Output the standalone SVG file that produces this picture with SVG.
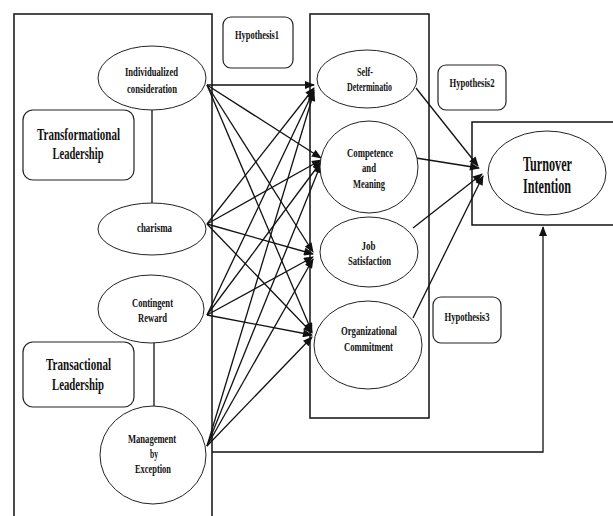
<svg xmlns="http://www.w3.org/2000/svg" width="613" height="516" viewBox="0 0 613 516">
<defs>
<style>
.box{fill:none;stroke:#111;stroke-width:1.5}
.rb{fill:#fff;stroke:#222;stroke-width:1.2}
.el{fill:#fff;stroke:#222;stroke-width:1}
.ln{fill:none;stroke:#111;stroke-width:1.3}
.ar{fill:none;stroke:#111;stroke-width:1.3;marker-end:url(#ah)}
text{font-family:"Liberation Serif","Times New Roman",serif;font-weight:bold;fill:#111;text-anchor:middle}
.s{font-size:13px}
.m{font-size:17px}
.l{font-size:20px}
</style>
<marker id="ah" viewBox="0 0 10 8" refX="9" refY="4" markerWidth="11" markerHeight="8" markerUnits="userSpaceOnUse" orient="auto">
<path d="M0,0 L10,4 L0,8 Z" fill="#111"/>
</marker>
</defs>
<rect width="613" height="516" fill="#fff"/>

<g id="containers">
<path class="box" d="M14,516 L14,14 L212,14 L212,516"/>
<rect class="box" x="310" y="14" width="119" height="404"/>
<path class="box" d="M613,122 L472,122 L472,225 L613,225"/>
</g>

<g id="connectors">
<line class="ln" x1="152" y1="110" x2="152" y2="203"/>
<line class="ln" x1="154" y1="343" x2="154" y2="406"/>
<!-- from Individualized consideration -->
<line class="ar" x1="207" y1="85" x2="314" y2="85"/>
<line class="ar" x1="207" y1="85" x2="321" y2="158"/>
<line class="ar" x1="207" y1="85" x2="313" y2="252"/>
<line class="ar" x1="207" y1="85" x2="312" y2="332"/>
<!-- from charisma -->
<line class="ar" x1="207" y1="224" x2="314" y2="88"/>
<line class="ar" x1="207" y1="224" x2="321" y2="160"/>
<line class="ar" x1="207" y1="224" x2="313" y2="254"/>
<line class="ar" x1="207" y1="224" x2="312" y2="333"/>
<!-- from Contingent Reward -->
<line class="ar" x1="207" y1="315" x2="314" y2="90"/>
<line class="ar" x1="207" y1="315" x2="321" y2="162"/>
<line class="ar" x1="207" y1="315" x2="313" y2="257"/>
<line class="ar" x1="207" y1="315" x2="312" y2="335"/>
<!-- from Management by Exception -->
<line class="ar" x1="207" y1="446" x2="314" y2="92"/>
<line class="ar" x1="207" y1="446" x2="321" y2="164"/>
<line class="ar" x1="207" y1="446" x2="313" y2="259"/>
<line class="ar" x1="207" y1="446" x2="312" y2="337"/>
<!-- mediators to Turnover -->
<line class="ar" x1="416" y1="88" x2="478" y2="166"/>
<line class="ar" x1="416" y1="158" x2="479" y2="168"/>
<line class="ar" x1="413" y1="228" x2="482" y2="174"/>
<line class="ar" x1="413" y1="318" x2="483" y2="176"/>
<!-- base line to Turnover -->
<path class="ar" d="M212,452 L543,452 L543,227"/>
</g>

<g id="transformational">
<rect class="rb" x="23" y="110" width="111" height="70" rx="10"/>
<text class="m" x="78.5" y="140" textLength="83" lengthAdjust="spacingAndGlyphs">Transformational</text>
<text class="m" x="78" y="159" textLength="51" lengthAdjust="spacingAndGlyphs">Leadership</text>
</g>
<g id="transactional">
<rect class="rb" x="23" y="342" width="111" height="65" rx="10"/>
<text class="m" x="78.5" y="370" textLength="65" lengthAdjust="spacingAndGlyphs">Transactional</text>
<text class="m" x="78" y="390" textLength="52" lengthAdjust="spacingAndGlyphs">Leadership</text>
</g>
<g id="hypothesis1">
<rect class="rb" x="223" y="17" width="70" height="51" rx="8"/>
<text class="s" x="257" y="39" textLength="44" lengthAdjust="spacingAndGlyphs">Hypothesis1</text>
</g>
<g id="hypothesis2">
<rect class="rb" x="438" y="65" width="68" height="45" rx="8"/>
<text class="s" x="472" y="87" textLength="45" lengthAdjust="spacingAndGlyphs">Hypothesis2</text>
</g>
<g id="hypothesis3">
<rect class="rb" x="433" y="297" width="68" height="46" rx="8"/>
<text class="s" x="467" y="321" textLength="45" lengthAdjust="spacingAndGlyphs">Hypothesis3</text>
</g>

<g id="individualized">
<ellipse class="el" cx="152" cy="78" rx="54" ry="32"/>
<text class="s" x="151.5" y="76" textLength="53" lengthAdjust="spacingAndGlyphs">Individualized</text>
<text class="s" x="152" y="93" textLength="50" lengthAdjust="spacingAndGlyphs">consideration</text>
</g>
<g id="charisma">
<ellipse class="el" cx="152" cy="229" rx="54" ry="26"/>
<text class="s" x="154.5" y="232" textLength="35" lengthAdjust="spacingAndGlyphs">charisma</text>
</g>
<g id="contingent">
<ellipse class="el" cx="151" cy="309" rx="53" ry="34"/>
<text class="s" x="152.5" y="307" textLength="41" lengthAdjust="spacingAndGlyphs">Contingent</text>
<text class="s" x="152.5" y="322" textLength="29" lengthAdjust="spacingAndGlyphs">Reward</text>
</g>
<g id="management">
<ellipse class="el" cx="153" cy="455" rx="53" ry="49"/>
<text class="s" x="152" y="443" textLength="48" lengthAdjust="spacingAndGlyphs">Management</text>
<text class="s" x="154" y="458" textLength="8" lengthAdjust="spacingAndGlyphs">by</text>
<text class="s" x="153" y="473" textLength="36" lengthAdjust="spacingAndGlyphs">Exception</text>
</g>

<g id="selfdetermination">
<ellipse class="el" cx="367" cy="79" rx="50" ry="29"/>
<text class="s" x="365" y="76" textLength="16" lengthAdjust="spacingAndGlyphs">Self-</text>
<text class="s" x="369.5" y="91" textLength="45" lengthAdjust="spacingAndGlyphs">Determinatio</text>
</g>
<g id="competence">
<ellipse class="el" cx="369" cy="167" rx="49" ry="46"/>
<text class="s" x="370" y="157" textLength="46" lengthAdjust="spacingAndGlyphs">Competence</text>
<text class="s" x="369" y="172" textLength="14" lengthAdjust="spacingAndGlyphs">and</text>
<text class="s" x="369" y="188" textLength="32" lengthAdjust="spacingAndGlyphs">Meaning</text>
</g>
<g id="jobsatisfaction">
<ellipse class="el" cx="369" cy="252" rx="49" ry="35"/>
<text class="s" x="368.5" y="250" textLength="14" lengthAdjust="spacingAndGlyphs">Job</text>
<text class="s" x="369.5" y="265" textLength="43" lengthAdjust="spacingAndGlyphs">Satisfaction</text>
</g>
<g id="organizational">
<ellipse class="el" cx="368" cy="345" rx="54" ry="44"/>
<text class="s" x="369" y="335" textLength="56" lengthAdjust="spacingAndGlyphs">Organizational</text>
<text class="s" x="368.5" y="351" textLength="49" lengthAdjust="spacingAndGlyphs">Commitment</text>
</g>

<g id="turnover">
<ellipse class="el" cx="547" cy="173" rx="59" ry="42"/>
<text class="l" x="547.5" y="171" textLength="49" lengthAdjust="spacingAndGlyphs">Turnover</text>
<text class="l" x="547" y="193" textLength="48" lengthAdjust="spacingAndGlyphs">Intention</text>
</g>
</svg>
